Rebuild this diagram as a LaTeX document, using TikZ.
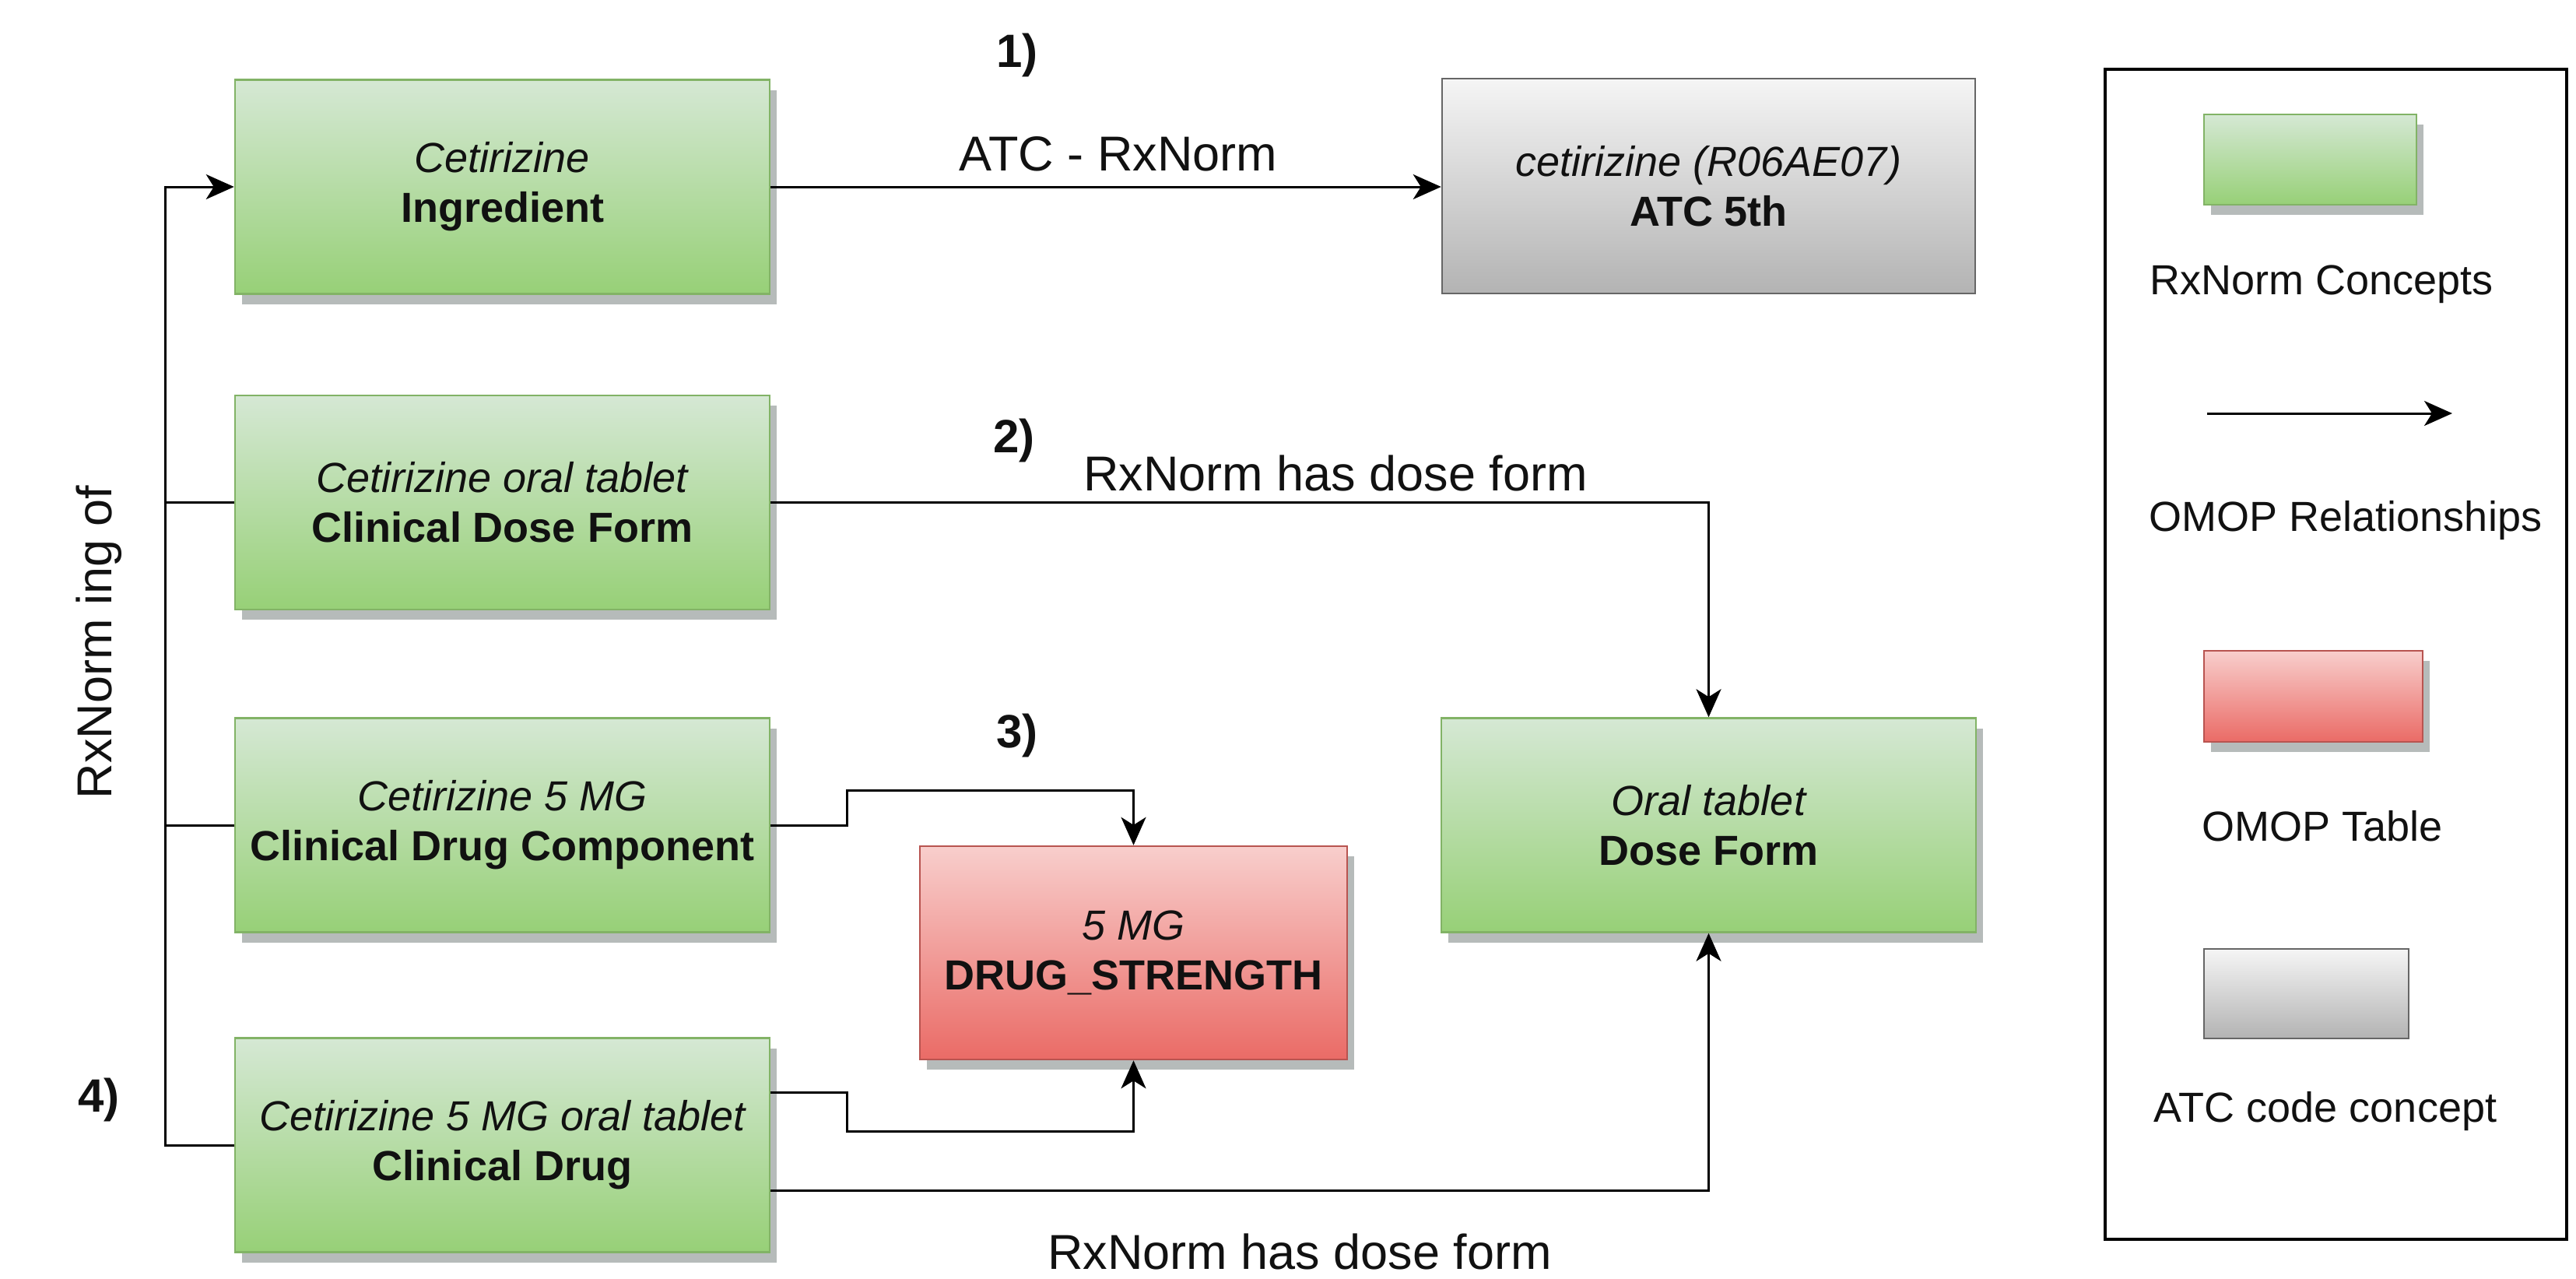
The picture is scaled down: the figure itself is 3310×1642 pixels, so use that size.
\documentclass[tikz,border=0pt]{standalone}
\usepackage{fontspec}
\setmainfont{Liberation Sans}
\usetikzlibrary{arrows.meta,shadows}
\definecolor{gtop}{HTML}{D5E8D4}
\definecolor{gbot}{HTML}{97D077}
\definecolor{gline}{HTML}{82B366}
\definecolor{rtop}{HTML}{F8CECC}
\definecolor{rbot}{HTML}{EA6B66}
\definecolor{rline}{HTML}{B85450}
\definecolor{ktop}{HTML}{F5F5F5}
\definecolor{kbot}{HTML}{B3B3B3}
\definecolor{kline}{HTML}{666666}
\definecolor{shadowc}{RGB}{182,187,186}
\definecolor{ink}{HTML}{111111}
\newcommand\myboxfont{\fontsize{54}{64}\selectfont}
\newcommand\mylblfont{\fontsize{63}{75}\selectfont}
\newcommand\mynumfont{\fontsize{60}{72}\selectfont\bfseries}
\newcommand\mylegfont{\fontsize{54}{64}\selectfont}
\begin{document}
\begin{tikzpicture}[x=1pt,y=-1pt,
  shad/.style={drop shadow={shadow xshift=9pt,shadow yshift=-13pt,fill=shadowc,opacity=1}},
  greenfill/.style={draw=gline,line width=2.5pt,top color=gtop,bottom color=gbot},
  redfill/.style={draw=rline,line width=2.5pt,top color=rtop,bottom color=rbot},
  grayfill/.style={draw=kline,line width=2.5pt,top color=ktop,bottom color=kbot},
  boxtext/.style={inner sep=0pt,align=center,font=\myboxfont,text=ink},
  concept/.style={greenfill,shad,boxtext,minimum width=687pt,minimum height=275pt},
  atcbox/.style={grayfill,boxtext,minimum width=685pt,minimum height=276pt},
  tablebox/.style={redfill,shad,boxtext,minimum width=549pt,minimum height=274pt},
  conn/.style={line width=3pt,draw=black},
  arrowed/.style={-{Stealth[length=36pt,width=32pt,inset=10pt]}},
  lbl/.style={font=\mylblfont,anchor=base,inner sep=0pt,text=ink},
  num/.style={font=\mynumfont,inner sep=0pt,text=ink},
  legtext/.style={font=\mylegfont,anchor=base,inner sep=0pt,text=ink}
]
\useasboundingbox (0,0) rectangle (3310,1642);
\fill[white] (0,0) rectangle (3310,1642);

% concept boxes
\node[concept] (ing) at (645.5,240) {{\itshape Cetirizine}\\{\bfseries Ingredient}};
\node[concept] (cdf) at (645.5,645.5) {{\itshape Cetirizine oral tablet}\\{\bfseries Clinical Dose Form}};
\node[concept] (cdc) at (645.5,1060) {{\itshape Cetirizine 5 MG}\\{\bfseries Clinical Drug Component}};
\node[concept] (cd) at (645.5,1471) {{\itshape Cetirizine 5 MG oral tablet}\\{\bfseries Clinical Drug}};
\node[atcbox] (atc) at (2195.5,239) {{\itshape cetirizine (R06AE07)}\\{\bfseries ATC 5th}};
\node[concept] (df) at (2195.5,1060) {{\itshape Oral tablet}\\{\bfseries Dose Form}};
\node[tablebox] (ds) at (1456.5,1224) {{\itshape 5 MG}\\{\bfseries DRUG\_STRENGTH}};

% left bus
\coordinate (busx) at (212,0);
\draw[conn,arrowed] (cd.west) -- (cd.west -| busx) -- (ing.west -| busx) -- (ing.west);
\draw[conn] (cdf.west) -- (cdf.west -| busx);
\draw[conn] (cdc.west) -- (cdc.west -| busx);

% relationships
\draw[conn,arrowed] (ing.east) -- (ing.east -| atc.west);
\draw[conn,arrowed] (cdf.east) -| (df.north);
\draw[conn,arrowed] (cdc.east) -- ++(98,0) -- ++(0,-45) -| (ds.north);
\draw[conn,arrowed] ([yshift=68pt]cd.east) -- ++(98,0) -- ++(0,50) -| (ds.south);
\draw[conn,arrowed] ([yshift=-58pt]cd.east) -| (df.south);

% labels
\node[lbl] (lab1) at (1437,219) {ATC - RxNorm};
\node[lbl] (lab2) at (1716,630) {RxNorm has dose form};
\node[lbl] (lab3) at (1670,1630) {RxNorm has dose form};
\node[lbl,rotate=90] (lab4) at (143,825) {RxNorm ing of};
\node[num] (n1) at (1307,71) {1)};
\node[num] (n2) at (1303,566) {2)};
\node[num] (n3) at (1307,945) {3)};
\node[num] (n4) at (127,1413) {4)};

% legend
\node[draw=black,line width=4pt,minimum width=593pt,minimum height=1503pt,inner sep=0pt] (legend) at (3001.5,840.5) {};
\node[greenfill,shad,minimum width=273pt,minimum height=116pt,inner sep=0pt] (lgreen) at (2968.5,205) {};
\node[legtext] (lt1) at (2983,378) {RxNorm Concepts};
\coordinate (la1) at (2836,531);
\coordinate (la2) at (3151,531);
\draw[conn,arrowed] (la1) -- (la2);
\node[legtext] (lt2) at (3014,682) {OMOP Relationships};
\node[redfill,shad,minimum width=281pt,minimum height=117pt,inner sep=0pt] (lred) at (2972.5,894.5) {};
\node[legtext] (lt3) at (2984,1080) {OMOP Table};
\node[grayfill,minimum width=263pt,minimum height=115pt,inner sep=0pt] (lgray) at (2963.5,1276.5) {};
\node[legtext] (lt4) at (2988,1441) {ATC code concept};
\end{tikzpicture}
\end{document}
